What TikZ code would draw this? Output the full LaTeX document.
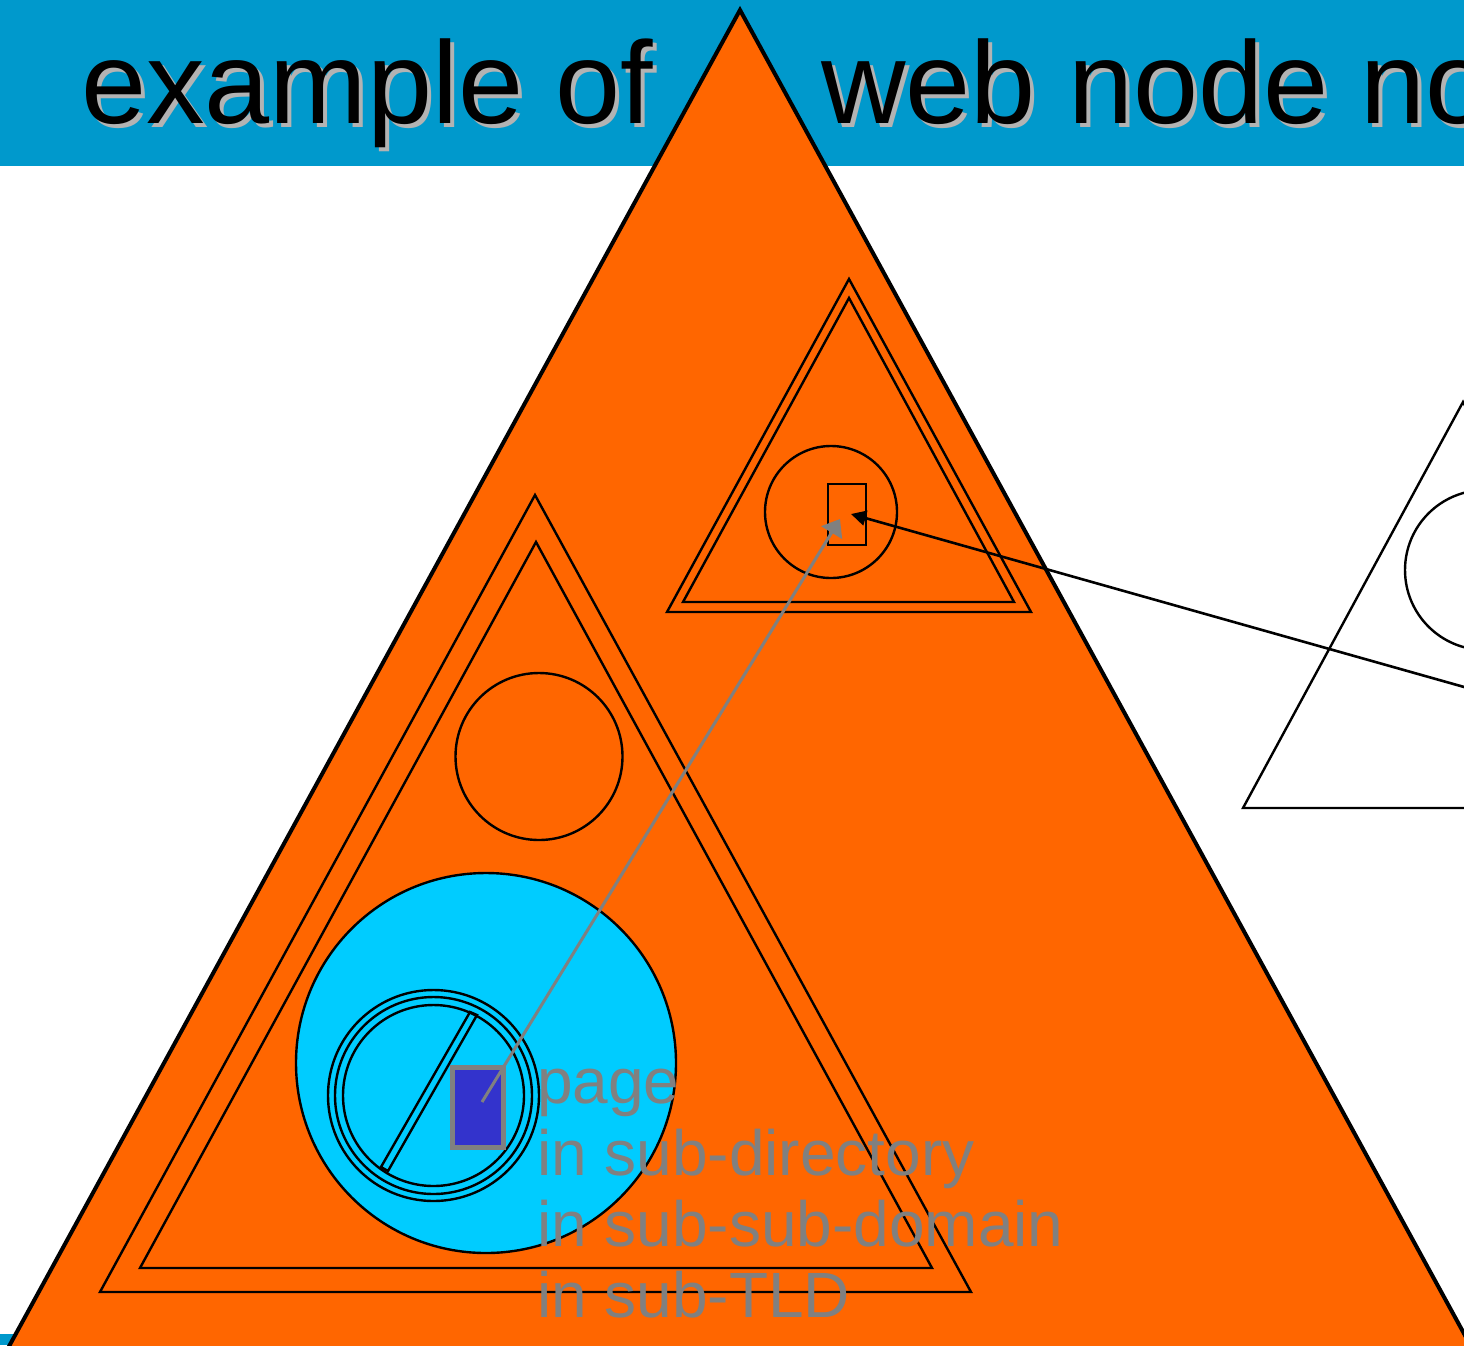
\documentclass[tikz,border=0pt]{standalone}
\usepackage{fontspec}
\setmainfont{Liberation Sans}
\usetikzlibrary{arrows.meta}
\definecolor{titleblue}{HTML}{0099CC}
\definecolor{nodeorange}{HTML}{FF6600}
\definecolor{dircyan}{HTML}{00CCFF}
\definecolor{pageblue}{HTML}{3333CC}
\definecolor{labelgray}{HTML}{808080}
\definecolor{shadowgray}{HTML}{B3B3B3}
\begin{document}
\begin{tikzpicture}[x=1pt,y=-1pt,line join=miter,
  thinline/.style={draw=black,line width=2.4pt},
  titletext/.style={anchor=base west,inner sep=0pt,font=\fontsize{117}{117}\selectfont},
  labeltext/.style={anchor=base west,inner sep=0pt,text=labelgray,font=\fontsize{64}{71}\selectfont},
  ring/.style={circle,thinline,inner sep=0pt,minimum size=#1},
  boxnode/.style={rectangle,thinline,inner sep=0pt}]
\useasboundingbox (0,0) rectangle (1464,1345);
% title bar and bottom strip
\fill[titleblue] (0,0) rectangle (1464,166);
\fill[titleblue] (0,1334) rectangle (1464,1345);
% title with shadow
\node[titletext,text=shadowgray] (t1s) at (85,127.5) {example of};
\node[titletext,text=black] (t1) at (81,123) {example of};
\node[titletext,text=shadowgray] (t2s) at (825,127.5) {web node no};
\node[titletext,text=black] (t2) at (821,123) {web node no};
% big TLD triangle
\filldraw[fill=nodeorange,draw=black,line width=4pt] (740,10) -- (8.1,1348) -- (1471.9,1348) -- cycle;
% upper sub-domain triangle
\draw[thinline] (849,279) -- (667,612) -- (1031,612) -- cycle;
\draw[thinline] (849,298) -- (683,602) -- (1014,602) -- cycle;
\node[ring=132pt] (updir) at (831,512) {};
\node[boxnode,minimum width=38pt,minimum height=61pt] (uppage) at (847,514.5) {};
% lower sub-sub-domain triangle
\draw[thinline] (535,495) -- (100,1292) -- (971,1292) -- cycle;
\draw[thinline] (536,542) -- (140,1268) -- (932,1268) -- cycle;
\node[ring=167pt] (lowdir) at (539,756.5) {};
\node[ring=380pt,fill=dircyan] (domain) at (486,1063) {};
\node[ring=211pt,fill=dircyan] (subdirA) at (433.5,1095.5) {};
\node[ring=197pt] (subdirB) at (433.5,1095.5) {};
\node[ring=181pt] (subdirC) at (433.5,1095.5) {};
\draw[thinline] (470,1012) -- (477,1015) -- (388,1171) -- (381,1167) -- cycle;
\node[rectangle,fill=pageblue,draw=labelgray,line width=5pt,inner sep=0pt,
      minimum width=51pt,minimum height=80pt] (page) at (477.5,1107) {};
% right (zoomed) triangle
\draw[thinline] (1463,402) -- (1243,808) -- (1683,808) -- cycle;
\node[ring=160pt] (rightdir) at (1485,570) {};
% connectors
\coordinate (pagept) at (482,1102);
\coordinate (gtip) at (840,519);
\coordinate (btip) at (851,514);
\coordinate (farright) at (1580,719.7);
\draw[draw=labelgray,line width=3pt,-{Triangle[length=16pt,width=24pt]}] (pagept) -- (gtip);
\draw[draw=black,line width=2.6pt,-{Triangle[length=15pt,width=15pt]}] (farright) -- (btip);
% labels
\node[labeltext] (l1) at (537,1103) {page};
\node[labeltext] (l2) at (537,1175) {in sub-directory};
\node[labeltext] (l3) at (537,1246) {in sub-sub-domain};
\node[labeltext] (l4) at (537,1317) {in sub-TLD};
\end{tikzpicture}
\end{document}
